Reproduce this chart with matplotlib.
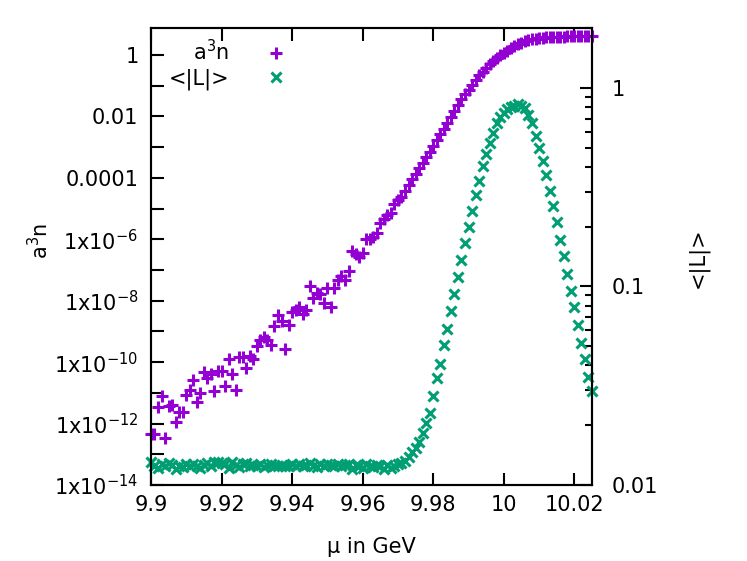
import matplotlib
matplotlib.use("Agg")
import matplotlib.pyplot as plt
from matplotlib.ticker import FixedLocator, NullLocator

plt.rcParams['font.family'] = ['DejaVu Sans']
plt.rcParams['mathtext.fontset'] = 'dejavusans'

# chemical potential grid (GeV)
mu = [9.900, 9.901, 9.902, 9.903, 9.904, 9.905, 9.906, 9.907, 9.908, 9.909,
      9.910, 9.911, 9.912, 9.913, 9.914, 9.915, 9.916, 9.917, 9.918, 9.919,
      9.920, 9.921, 9.922, 9.923, 9.924, 9.925, 9.926, 9.927, 9.928, 9.929,
      9.930, 9.931, 9.932, 9.933, 9.934, 9.935, 9.936, 9.937, 9.938, 9.939,
      9.940, 9.941, 9.942, 9.943, 9.944, 9.945, 9.946, 9.947, 9.948, 9.949,
      9.950, 9.951, 9.952, 9.953, 9.954, 9.955, 9.956, 9.957, 9.958, 9.959,
      9.960, 9.961, 9.962, 9.963, 9.964, 9.965, 9.966, 9.967, 9.968, 9.969,
      9.970, 9.971, 9.972, 9.973, 9.974, 9.975, 9.976, 9.977, 9.978, 9.979,
      9.980, 9.981, 9.982, 9.983, 9.984, 9.985, 9.986, 9.987, 9.988, 9.989,
      9.990, 9.991, 9.992, 9.993, 9.994, 9.995, 9.996, 9.997, 9.998, 9.999,
      10.000, 10.001, 10.002, 10.003, 10.004, 10.005, 10.006, 10.007, 10.008,
      10.009, 10.010, 10.011, 10.012, 10.013, 10.014, 10.015, 10.016, 10.017,
      10.018, 10.019, 10.020, 10.021, 10.022, 10.023, 10.024, 10.025]

# density a^3 n (left axis)
a3n = [4.6e-13, 4.7e-13, 3.4e-12, 7.9e-12, 3.4e-13, 3.6e-12, 3.9e-12, 1.15e-12,
       2.4e-12, 2.3e-12, 8.2e-12, 1.23e-11, 2.6e-11, 5.0e-12, 1.02e-11, 4.9e-11,
       3.1e-11, 4.1e-11, 1.17e-11, 5.25e-11, 5.2e-11, 1.73e-11, 1.22e-10, 4.1e-11,
       1.28e-11, 1.49e-10, 1.44e-10, 6.6e-11, 1.58e-10, 1.28e-10, 3.4e-10, 5.25e-10,
       6.7e-10, 5.2e-10, 3.7e-10, 1.53e-9, 3.5e-9, 2.15e-9, 2.6e-10, 1.61e-9,
       4.2e-9, 5.1e-9, 6.1e-9, 3.8e-9, 4.9e-9, 3.1e-8, 1.18e-8, 1.74e-8,
       1.7e-8, 8.2e-9, 2.5e-8, 6.1e-9, 2.55e-8, 4.7e-8, 6.2e-8, 4.7e-8,
       9.3e-8, 4.1e-7, 3.2e-7, 2.7e-7, 3.6e-7, 1.0e-6, 1.0e-6, 1.19e-6,
       1.66e-6, 3.5e-6, 4.6e-6, 6.4e-6, 7.4e-6, 1.41e-5, 1.9e-5, 2.43e-5,
       3.6e-5, 5.85e-5, 9.4e-5, 1.38e-4, 2.09e-4, 3.16e-4, 4.95e-4, 7.2e-4,
       1.09e-3, 1.71e-3, 2.68e-3, 4.04e-3, 6.1e-3, 9.6e-3, 1.45e-2, 2.27e-2,
       3.56e-2, 5.2e-2, 7.5e-2, 0.109, 0.153, 0.215, 0.29, 0.377,
       0.491, 0.638, 0.798, 0.963, 1.16, 1.40, 1.69, 1.96,
       2.28, 2.55, 2.79, 3.01, 3.20, 3.35, 3.50, 3.63,
       3.74, 3.83, 3.88, 3.94, 3.97, 4.00, 4.02, 4.04,
       4.05, 4.05, 4.06, 4.06, 4.06, 4.06]

# Polyakov loop <|L|> (right axis)
absL = [0.0131, 0.0125, 0.0122, 0.0127, 0.0124, 0.0129, 0.0126, 0.0121, 0.0125, 0.0123,
        0.0127, 0.0124, 0.0128, 0.0125, 0.0122, 0.0126, 0.0129, 0.0124, 0.0130, 0.0131,
        0.0129, 0.0127, 0.0122, 0.0130, 0.0126, 0.0123, 0.0127, 0.0129, 0.0124, 0.0126,
        0.0125, 0.0128, 0.0123, 0.0126, 0.0127, 0.0125, 0.0124, 0.0126, 0.0125, 0.0124,
        0.0127, 0.0125, 0.0128, 0.0124, 0.0126, 0.0129, 0.0125, 0.0123, 0.0127, 0.0125,
        0.0128, 0.0126, 0.0124, 0.0127, 0.0125, 0.0126, 0.0128, 0.0121, 0.0126, 0.0124,
        0.0122, 0.0127, 0.0125, 0.0123, 0.0126, 0.0124, 0.0121, 0.0126, 0.0122, 0.0125,
        0.0128, 0.0129, 0.0132, 0.0139, 0.0146, 0.0153, 0.0164, 0.0182, 0.0206, 0.0230,
        0.0281, 0.0345, 0.0406, 0.0504, 0.0611, 0.0748, 0.0915, 0.111, 0.135, 0.165,
        0.198, 0.239, 0.287, 0.341, 0.403, 0.465, 0.530, 0.593, 0.661, 0.713,
        0.750, 0.778, 0.796, 0.814, 0.824, 0.814, 0.787, 0.733, 0.668, 0.570,
        0.499, 0.427, 0.363, 0.303, 0.253, 0.210, 0.172, 0.142, 0.116, 0.0951,
        0.0787, 0.0636, 0.0518, 0.0430, 0.0349, 0.0298]

xticks = [9.9, 9.92, 9.94, 9.96, 9.98, 10.0, 10.02]
xticklabels = ["9.9", "9.92", "9.94", "9.96", "9.98", "10", "10.02"]
yticks = [1e-14, 1e-13, 1e-12, 1e-11, 1e-10, 1e-9, 1e-8, 1e-7, 1e-6,
          1e-5, 1e-4, 1e-3, 1e-2, 1e-1, 1]
yticklabels = ["1x10$^{-14}$", "", "1x10$^{-12}$", "", "1x10$^{-10}$", "",
               "1x10$^{-8}$", "", "1x10$^{-6}$", "", "0.0001", "", "0.01", "", "1"]
y2ticks = [0.01, 0.1, 1]
y2ticklabels = ["0.01", "0.1", "1"]
y2minor = [0.02, 0.03, 0.04, 0.05, 0.06, 0.07, 0.08, 0.09,
           0.2, 0.3, 0.4, 0.5, 0.6, 0.7, 0.8, 0.9, 2]

FS = 15
purple = "#9400D3"
green = "#009E73"

fig = plt.figure(figsize=(7.47, 5.61), dpi=100)
ax = fig.add_axes([0.2021, 0.1355, 0.5904, 0.8146])
ax2 = ax.twinx()

p1, = ax.plot(mu, a3n, ls="none", marker="+", ms=8, mew=2.2,
              color=purple, clip_on=False, label="a$^3$n")
p2, = ax2.plot(mu, absL, ls="none", marker="x", ms=7, mew=2.2,
               color=green, clip_on=False, label="<|L|>")

ax.set_xlim(9.9, 10.025)
ax.set_yscale("log")
ax.set_ylim(1e-14, 7.57)
ax2.set_yscale("log")
ax2.set_ylim(0.01, 2.0)

ax.set_xticks(xticks)
ax.set_xticklabels(xticklabels)
ax.xaxis.set_minor_locator(NullLocator())
ax.yaxis.set_major_locator(FixedLocator(yticks))
ax.set_yticklabels(yticklabels)
ax.yaxis.set_minor_locator(NullLocator())
ax2.yaxis.set_major_locator(FixedLocator(y2ticks))
ax2.set_yticklabels(y2ticklabels)
ax2.yaxis.set_minor_locator(FixedLocator(y2minor))

ax.tick_params(axis="x", which="major", direction="in", length=9, width=1.5,
               top=True, labelsize=FS, pad=7)
ax.tick_params(axis="y", which="major", direction="in", length=9, width=1.5,
               right=False, labelsize=FS, pad=9)
ax2.tick_params(axis="y", which="major", direction="in", length=9, width=1.5,
                labelsize=FS, pad=14)
ax2.tick_params(axis="y", which="minor", direction="in", length=5, width=1.5)

for a in (ax, ax2):
    for s in a.spines.values():
        s.set_linewidth(1.5)

ax.set_xlabel("μ in GeV", fontsize=FS)
ax.xaxis.set_label_coords(0.5, -0.113)
ax.set_ylabel("a$^3$n", fontsize=FS)
ax.yaxis.set_label_coords(-0.2245, 0.534)
ax2.set_ylabel("<|L|>", fontsize=FS)
ax2.yaxis.set_label_coords(1.2154, 0.498)

leg = ax2.legend([p1, p2], ["a$^3$n", "<|L|>"], loc="upper left",
                 bbox_to_anchor=(0.04, 0.975), markerfirst=False, frameon=False,
                 handlelength=2.9, handletextpad=0.8, labelspacing=0.2,
                 borderpad=0, borderaxespad=0, fontsize=FS)

fig.savefig("out.png", dpi=100)
